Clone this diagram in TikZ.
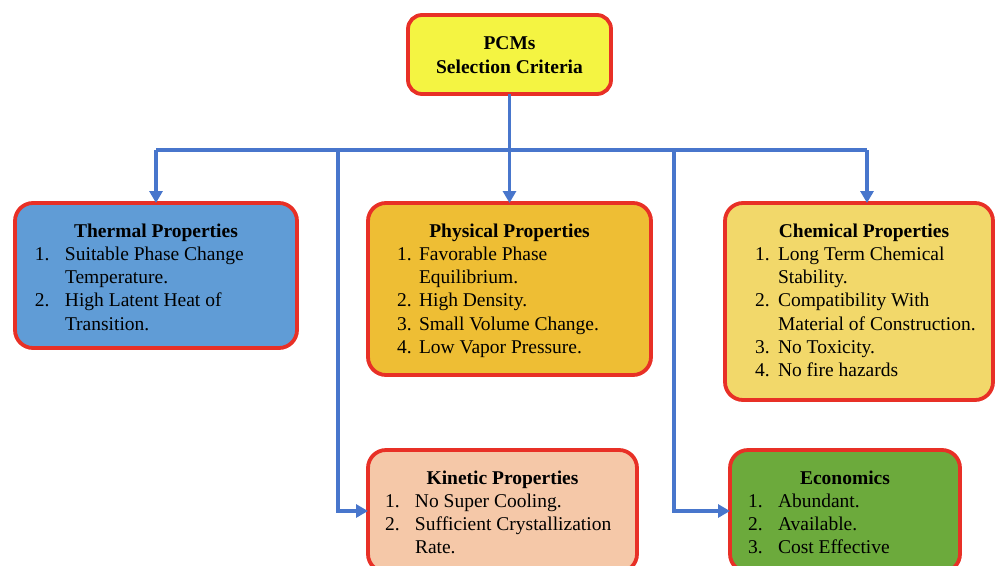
\documentclass[tikz,border=0pt]{standalone}
\usepackage{fontspec}
\setmainfont{Liberation Serif}
\usetikzlibrary{arrows.meta}

\definecolor{critred}{RGB}{232,48,38}
\definecolor{critwire}{RGB}{72,118,204}
\definecolor{pcmyellow}{RGB}{244,244,66}
\definecolor{thermalblue}{RGB}{96,156,214}
\definecolor{physgold}{RGB}{238,190,52}
\definecolor{chemgold}{RGB}{242,216,106}
\definecolor{kinpeach}{RGB}{245,200,168}
\definecolor{ecogreen}{RGB}{108,170,60}

\newlength\numx
\newlength\txtx
% one list line: number, then text at the text column
\newcommand{\critline}[2]{\par\noindent\hspace*{\numx}\makebox[\dimexpr\txtx-\numx\relax][l]{#1}#2}
\newcommand{\crittitle}[1]{{\centering\rule{0pt}{34pt}\textbf{#1}\par}}
% width, height, number column, text column, content
\newcommand{\critbox}[5]{\setlength\numx{#3}\setlength\txtx{#4}%
  \parbox[c][#2][t]{#1}{\fontsize{19.5}{23.3}\selectfont #5}}

\begin{document}
\begin{tikzpicture}[x=1pt,y=-1pt,
  crit/.style={rectangle,draw=critred,line width=3.8pt,rounded corners=18pt,
    inner sep=0pt,outer sep=0pt,anchor=north west},
  wire/.style={draw=critwire,line width=3.4pt},
  conn/.style={wire,-{Triangle[length=12pt,width=13pt]}}]
\useasboundingbox (0,0) rectangle (995,565);
\clip (0,0) rectangle (995,565);

\node[crit,fill=pcmyellow,rounded corners=14pt] (pcm) at (408,15)
  {\parbox[c][79pt][t]{203pt}{\centering\fontsize{19.5}{24}\selectfont\bfseries
   \rule{0pt}{34pt}PCMs\\Selection Criteria}};

\node[crit,fill=thermalblue] (thermal) at (15,203)
  {\critbox{282pt}{145pt}{20pt}{50pt}{\crittitle{Thermal Properties}
   \critline{1.}{Suitable Phase Change}
   \critline{}{Temperature.}
   \critline{2.}{High Latent Heat of}
   \critline{}{Transition.}}};

\node[crit,fill=physgold] (phys) at (368,203)
  {\critbox{283pt}{172pt}{29pt}{51pt}{\crittitle{Physical Properties}
   \critline{1.}{Favorable Phase}
   \critline{}{Equilibrium.}
   \critline{2.}{High Density.}
   \critline{3.}{Small Volume Change.}
   \critline{4.}{Low Vapor Pressure.}}};

\node[crit,fill=chemgold] (chem) at (725,203)
  {\critbox{268pt}{197pt}{30pt}{53pt}{\crittitle{\hspace*{10pt}Chemical Properties}
   \critline{1.}{Long Term Chemical}
   \critline{}{Stability.}
   \critline{2.}{Compatibility With}
   \critline{}{Material of Construction.}
   \critline{3.}{No Toxicity.}
   \critline{4.}{No fire hazards}}};

\node[crit,fill=kinpeach] (kin) at (368,450)
  {\critbox{269pt}{122pt}{17pt}{47pt}{\crittitle{Kinetic Properties}
   \critline{1.}{No Super Cooling.}
   \critline{2.}{Sufficient Crystallization}
   \critline{}{Rate.}}};

\node[crit,fill=ecogreen] (eco) at (730,450)
  {\critbox{230pt}{122pt}{18pt}{48pt}{\crittitle{Economics}
   \critline{1.}{Abundant.}
   \critline{2.}{Available.}
   \critline{3.}{Cost Effective}}};

\coordinate (hub) at (509.5,150);
\coordinate (busW) at (thermal.north |- hub);
\coordinate (busE) at (867,150);
\coordinate (kinTap) at (338,150);
\coordinate (ecoTap) at (674,150);

\draw[wire] (busW) -- (busE);
\draw[conn] (pcm.south) -- (phys.north);
\draw[conn] (busW) -- (thermal.north);
\draw[conn] (busE) -- (busE |- chem.north);
\draw[conn] (kinTap) |- (kin.west);
\draw[conn] (ecoTap) |- (eco.west);
\end{tikzpicture}
\end{document}
